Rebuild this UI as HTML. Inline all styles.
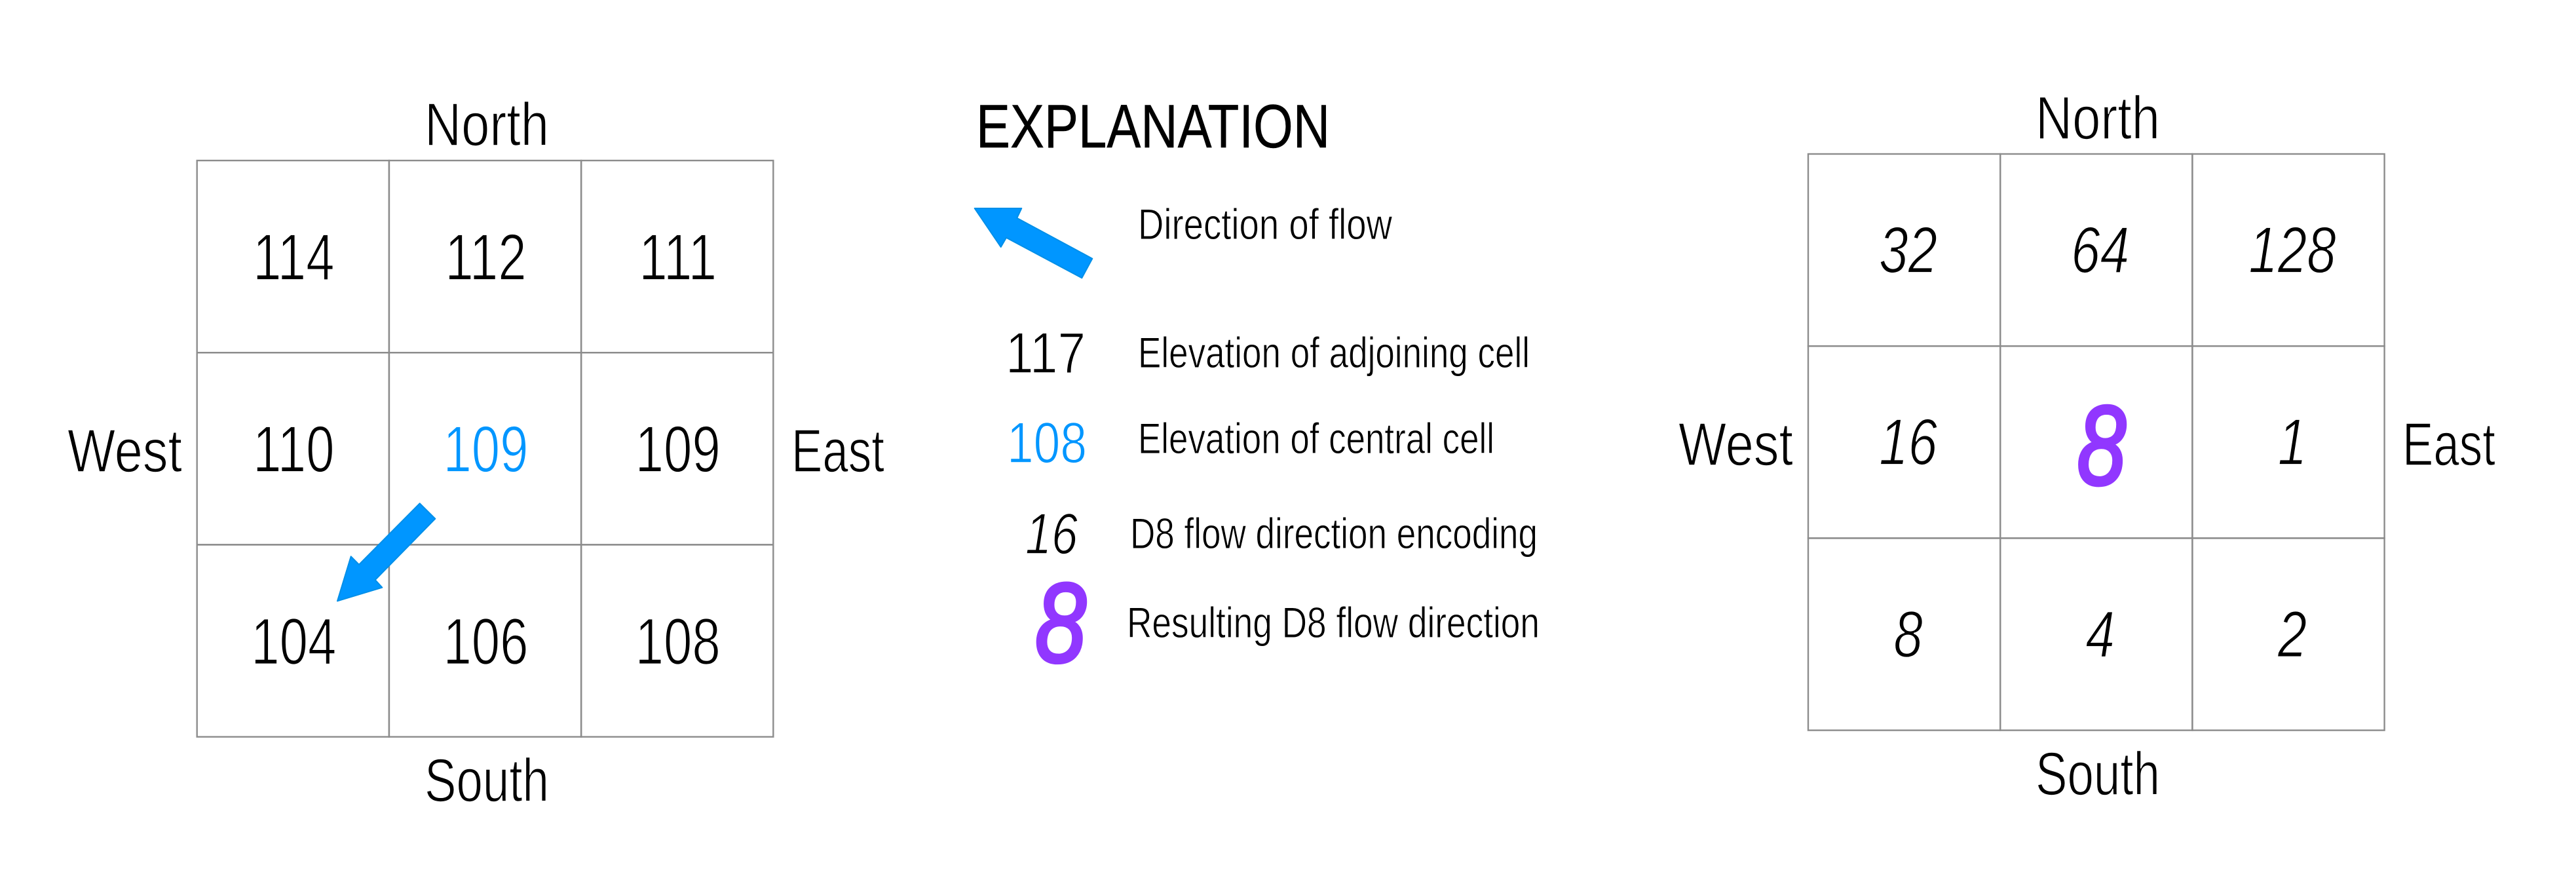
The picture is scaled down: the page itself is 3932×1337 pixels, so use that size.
<!DOCTYPE html>
<html lang="en">
<head>
<meta charset="utf-8">
<title>D8 flow direction diagram</title>
<style>
html,body{margin:0;padding:0;background:#fff;width:3932px;height:1337px;overflow:hidden}
svg{display:block}
text{font-family:"Liberation Sans",sans-serif;fill:#000}
.thin-l{stroke:#fff;stroke-width:1.6px}
.thin-s{stroke:#fff;stroke-width:0.9px}
</style>
</head>
<body>
<svg id="figure" xmlns="http://www.w3.org/2000/svg" width="3932" height="1337" viewBox="0 0 3932 1337">
  <rect width="3932" height="1337" fill="#ffffff"/>
  <g id="elevation-grid"></g>
  <g id="encoding-grid"></g>

  <g font-size="93" class="thin-l">
    <text x="648" y="222" textLength="190" lengthAdjust="spacingAndGlyphs">North</text>
    <text x="648" y="1223" textLength="190" lengthAdjust="spacingAndGlyphs">South</text>
    <text x="103" y="720" textLength="175" lengthAdjust="spacingAndGlyphs">West</text>
    <text x="1208" y="720" textLength="142" lengthAdjust="spacingAndGlyphs">East</text>
  </g>
  <polygon points="640.7,768.3 664.3,791.7 572.7,885 583.3,896.7 515,917.3 535.7,849.3 548,861.7" fill="#0096ff" stroke="#008fe8" stroke-width="2" stroke-linejoin="round"/>

  <g>
    <text x="1490" y="225" font-size="94" textLength="540" lengthAdjust="spacingAndGlyphs" style="stroke:#000;stroke-width:0.5px">EXPLANATION</text>
    <polygon points="1487.7,318 1559.3,318 1552.3,332.7 1667.3,394.7 1651.3,424.3 1536,362.7 1527.7,377" fill="#0096ff" stroke="#008fe8" stroke-width="2" stroke-linejoin="round"/>
    <text class="thin-s" x="1737" y="365" font-size="66" textLength="388" lengthAdjust="spacingAndGlyphs">Direction of flow</text>
    <text class="thin-l" x="1535" y="569" font-size="88" textLength="122" lengthAdjust="spacingAndGlyphs">117</text>
    <text class="thin-s" x="1737" y="561" font-size="66" textLength="598" lengthAdjust="spacingAndGlyphs">Elevation of adjoining cell</text>
    <text class="thin-l" x="1537" y="706" font-size="88" textLength="122" lengthAdjust="spacingAndGlyphs" style="fill:#0096ff">108</text>
    <text class="thin-s" x="1737" y="692" font-size="66" textLength="544" lengthAdjust="spacingAndGlyphs">Elevation of central cell</text>
    <text class="thin-l" x="1565" y="845" font-size="88" font-style="italic" textLength="80" lengthAdjust="spacingAndGlyphs">16</text>
    <text class="thin-s" x="1725" y="837" font-size="66" textLength="622" lengthAdjust="spacingAndGlyphs">D8 flow direction encoding</text>
    <text x="1580" y="1010" font-size="172" font-style="italic" textLength="78" lengthAdjust="spacingAndGlyphs" style="fill:#9137ff;stroke:#9137ff;stroke-width:5px">8</text>
    <text class="thin-s" x="1720" y="973" font-size="66" textLength="630" lengthAdjust="spacingAndGlyphs">Resulting D8 flow direction</text>
  </g>

  <g font-size="93" class="thin-l">
    <text x="3107" y="212" textLength="190" lengthAdjust="spacingAndGlyphs">North</text>
    <text x="3107" y="1213" textLength="190" lengthAdjust="spacingAndGlyphs">South</text>
    <text x="2562" y="710" textLength="175" lengthAdjust="spacingAndGlyphs">West</text>
    <text x="3667" y="710" textLength="142" lengthAdjust="spacingAndGlyphs">East</text>
  </g>
</svg>
<script>
// Cell values
const elevationValues = [114, 112, 111, 110, 109, 109, 104, 106, 108];
const encodingValues = [32, 64, 128, 16, 8, 1, 8, 4, 2];
const centralCellIndex = 4;

const SVG_NS = 'http://www.w3.org/2000/svg';
const cellSize = 293.2;
const columnCount = 3;

function gridX(originX, col) { return originX + col * cellSize; }
function gridY(originY, row) { return originY + row * cellSize; }

function drawCell(parent, originX, originY, index) {
  const rect = document.createElementNS(SVG_NS, 'rect');
  
  
  rect.setAttribute('x', gridX(originX, index % columnCount));
  rect.setAttribute('y', gridY(originY, Math.floor(index / columnCount)));
  rect.setAttribute('width', cellSize);
  rect.setAttribute('height', cellSize);
  rect.setAttribute('fill', 'none');
  rect.setAttribute('stroke', '#8c8c8c');
  rect.setAttribute('stroke-width', '2.4');
  parent.appendChild(rect);
}

function addValue(parent, value, cx, baseline, fontSize, squeeze, italic, heavy, color) {
  const t = document.createElementNS(SVG_NS, 'text');
  
  
  t.setAttribute('text-anchor', 'middle');
  t.setAttribute('transform', 'translate(' + cx + ' ' + baseline + ') scale(' + squeeze + ' 1)');
  t.setAttribute('font-size', fontSize);
  if (italic) t.setAttribute('font-style', 'italic');
  if (color) t.style.fill = color;
  t.style.stroke = heavy ? color : '#fff';
  t.style.strokeWidth = heavy ? '5px' : '1.8px';
  t.textContent = String(value);
  parent.appendChild(t);
}

const elevationGrid = document.getElementById('elevation-grid');
elevationValues.forEach(function (value, i) {
  const col = i % columnCount;
  const row = Math.floor(i / columnCount);
  drawCell(elevationGrid, 300.7, 245, i);
  addValue(elevationGrid, value,
    gridX(300.7, col) + cellSize / 2 + 1,
    gridY(245, row) + 182,
    100, 0.78, false, false,
    i === centralCellIndex ? '#0096ff' : null);
});

const encodingGrid = document.getElementById('encoding-grid');
encodingValues.forEach(function (value, i) {
  const col = i % columnCount;
  const row = Math.floor(i / columnCount);
  const central = i === centralCellIndex;
  drawCell(encodingGrid, 2760, 235, i);
  addValue(encodingGrid, value,
    gridX(2760, col) + cellSize / 2 + (central ? 8 : 6),
    gridY(235, row) + (central ? 211 : 181),
    central ? 172 : 100, central ? 0.78 : 0.8, true, central,
    central ? '#9137ff' : null);
});
</script>
</body>
</html>
